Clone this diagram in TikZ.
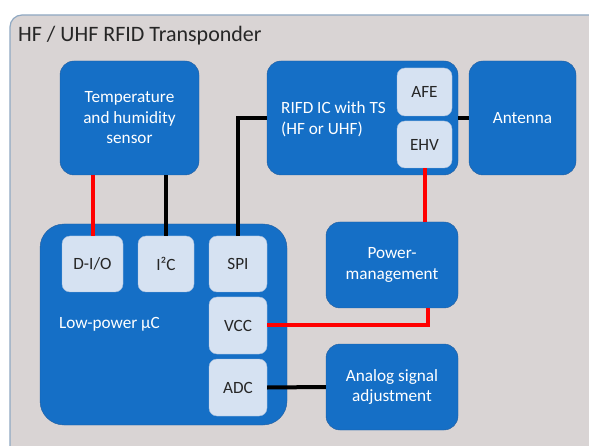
\documentclass[tikz,border=0pt]{standalone}
\usepackage{fontspec}
\setmainfont{Carlito}
\usetikzlibrary{positioning, calc}

\definecolor{frameFill}{HTML}{D9D4D4}
\definecolor{frameLine}{HTML}{8FA8C2}
\definecolor{blockBlue}{HTML}{156FC6}
\definecolor{blockLine}{HTML}{245E9E}
\definecolor{portFill}{HTML}{D6E2F2}
\definecolor{portLine}{HTML}{A5BDDB}
\definecolor{wireRed}{HTML}{FF0000}

\newcommand{\blockfont}{\fontsize{17.2}{20.5}\selectfont}
\newcommand{\titlefont}{\fontsize{22}{26}\selectfont}

\begin{document}
\begin{tikzpicture}[
    x=1pt, y=-1pt,
    block/.style={draw=blockLine, fill=blockBlue, rounded corners=14pt, align=center, text=white, font=\blockfont, inner sep=4pt},
    port/.style={draw=portLine, fill=portFill, rounded corners=8pt, align=center, text=black!85, font=\blockfont, inner sep=0pt},
    txt/.style={align=left, text=white, font=\blockfont, anchor=west, inner sep=0pt},
    wire/.style={line width=4pt, black},
    pwr/.style={line width=4pt, wireRed}
]

\clip (0,0) rectangle (589,446);

% ================= Frame =================

\draw[frameLine, fill=frameFill, line width=1.2pt, rounded corners=12pt] (10,15) rectangle (620,480);
\node[anchor=west, font=\titlefont, text=black!85, inner sep=0pt] (title) at (18,36) {HF / UHF RFID Transponder};

% ================= Nodes =================

% Top row: sensor, RFID chip, antenna
\node[block, minimum width=139pt, minimum height=114pt] (sensor) at (129.5,118) {Temperature\\and humidity\\sensor};
\node[block, minimum width=191pt, minimum height=114pt] (rfid) at (362.5,118) {};
\node[block, minimum width=107pt, minimum height=114pt] (antenna) at (522.5,118) {Antenna};

% Bottom left: microcontroller
\node[block, rounded corners=24pt, minimum width=247pt, minimum height=201pt] (uc) at (163.5,324.5) {};

% Bottom right: power and analog path
\node[block, minimum width=132pt, minimum height=86pt] (power) at (392,265) {Power-\\management};
\node[block, minimum width=132pt, minimum height=86pt] (analog) at (392,387) {Analog signal\\adjustment};

% Ports of the RFID chip
\node[port, minimum width=55pt, minimum height=48pt] (afe) at (424.5,92) {AFE};
\node[port, minimum width=55pt, minimum height=47pt] (ehv) at (424.5,144.5) {EHV};

% Ports of the microcontroller
\node[port, minimum width=61pt, minimum height=56pt] (dio) at (92.5,264) {D-I/O};
\node[port, minimum width=56pt, minimum height=56pt] (i2c) at (166,264) {I²C};
\node[port, minimum width=58pt, minimum height=56pt] (spi) at (238,264) {SPI};
\node[port, minimum width=58pt, minimum height=57pt] (vcc) at (238,325.5) {VCC};
\node[port, minimum width=58pt, minimum height=57pt] (adc) at (238,387.5) {ADC};

% ================= Labels =================

\node[txt] (rfid_txt) at (281,119) {RIFD IC with TS\\(HF or UHF)};
\node[txt] (uc_txt) at (59,324) {Low-power µC};

% ================= Edges =================

% Sensor to microcontroller
\draw[pwr] (dio.north) -- (dio.north |- sensor.south);
\draw[wire] (i2c.north) -- (i2c.north |- sensor.south);

% SPI up to the RFID chip
\draw[wire] (spi.north) |- (rfid.west);

% RFID chip to antenna
\draw[wire] (rfid.east) -- (antenna.west);

% Energy harvesting to power management
\draw[pwr] (ehv.south) -- (ehv.south |- power.north);

% Power management to VCC
\draw[pwr] (vcc.east) -| ($(power.south)+(36,0)$);

% ADC to analog front end
\draw[wire] (adc.east) -- (analog.west);

\end{tikzpicture}
\end{document}
